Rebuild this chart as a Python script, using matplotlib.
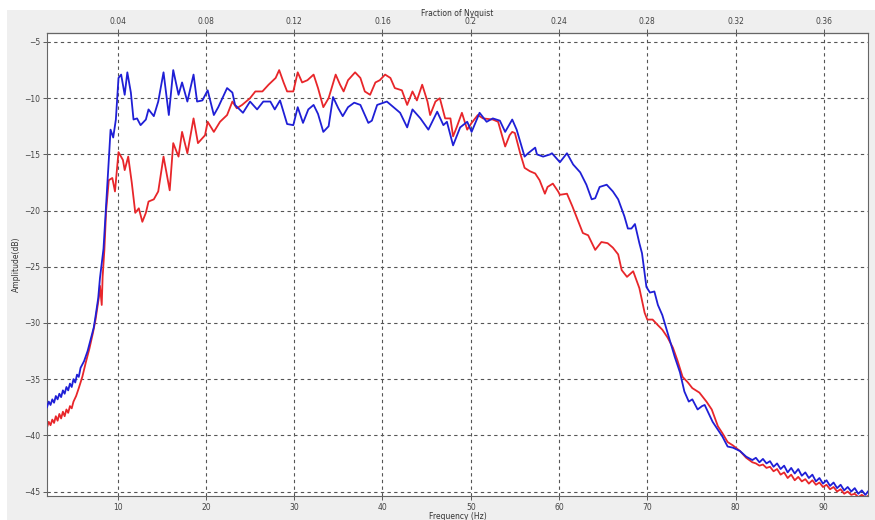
import matplotlib
matplotlib.use("Agg")
import matplotlib.pyplot as plt
from matplotlib.patches import Rectangle

# Spectrum data (frequency in Hz, amplitude in dB)
blue_freq = [2.0, 2.2, 2.4, 2.6, 2.8, 3.0, 3.2, 3.4, 3.6, 3.8, 4.0, 4.2, 4.4, 4.6, 4.8,
             5.0, 5.2, 5.4, 5.6, 5.8, 6.2, 6.6, 7.0, 7.3, 7.5, 7.8, 8.0, 8.4, 8.7, 9.0,
             9.2, 9.5, 9.8, 10.1, 10.4, 10.8, 11.1, 11.5, 11.8, 12.2, 12.6, 13.2, 13.5,
             14.1, 14.6, 15.2, 15.8, 16.3, 16.9, 17.3, 17.9, 18.6, 19.0, 19.6, 20.2,
             20.9, 21.4, 22.4, 23.0, 23.3, 24.2, 25.0, 25.8, 26.5, 27.3, 27.8, 28.4,
             29.2, 29.9, 30.4, 31.0, 31.6, 32.2, 32.7, 33.3, 33.9, 34.4, 35.0, 35.5,
             36.1, 36.8, 37.5, 38.4, 38.8, 39.4, 40.5, 41.4, 42.0, 42.8, 43.4, 44.3,
             45.2, 46.2, 46.9, 47.3, 48.0, 48.8, 49.6, 50.1, 51.0, 51.8, 52.5, 53.3,
             53.9, 54.7, 55.2, 56.1, 56.5, 57.3, 57.5, 58.2, 59.0, 59.2, 60.1, 60.9,
             61.6, 62.4, 63.1, 63.7, 64.1, 64.6, 65.4, 66.1, 66.7, 67.4, 67.8, 68.2,
             68.6, 69.1, 69.4, 69.9, 70.3, 70.8, 71.2, 71.7, 72.3, 73.1, 73.7, 74.2,
             74.7, 75.1, 75.7, 76.2, 76.5, 77.4, 78.5, 79.1, 79.7, 80.5, 81.2, 81.9,
             82.3, 82.7, 83.1, 83.5, 83.9, 84.3, 84.7, 85.1, 85.5, 85.9, 86.3, 86.7,
             87.1, 87.5, 87.9, 88.3, 88.7, 89.1, 89.5, 89.9, 90.3, 90.7, 91.1, 91.5,
             91.9, 92.3, 92.7, 93.1, 93.5, 93.9, 94.3, 94.7, 95.0]
blue_db = [-37.5, -37.0, -37.3, -36.8, -37.1, -36.5, -36.8, -36.3, -36.6, -36.0, -36.3,
           -35.7, -36.0, -35.4, -35.7, -35.0, -35.3, -34.6, -34.8, -34.0, -33.4, -32.5,
           -31.3, -30.4, -29.4, -27.8, -26.0, -23.4, -19.5, -15.5, -12.8, -13.5, -11.9,
           -8.2, -7.9, -9.7, -7.7, -9.5, -11.9, -11.8, -12.4, -11.9, -11.0, -11.6,
           -10.3, -7.7, -11.5, -7.5, -9.7, -8.6, -10.3, -7.9, -10.3, -10.2, -9.3,
           -11.5, -10.8, -9.1, -9.5, -10.6, -11.3, -10.3, -11.0, -10.3, -10.3, -11.0,
           -10.2, -12.3, -12.4, -10.8, -12.2, -11.0, -10.6, -11.4, -13.0, -12.5, -9.9,
           -10.9, -11.6, -10.8, -10.4, -10.6, -12.2, -12.0, -10.6, -10.3, -10.9, -11.3,
           -12.6, -11.0, -11.8, -12.8, -11.2, -12.4, -12.1, -14.2, -12.6, -12.1, -13.0,
           -11.3, -12.1, -11.8, -12.0, -13.0, -11.9, -12.8, -15.2, -14.9, -14.4, -15.0,
           -15.2, -15.0, -14.9, -15.7, -14.9, -15.9, -16.6, -17.7, -19.0, -18.9, -17.9,
           -17.7, -18.3, -19.0, -20.5, -21.6, -21.6, -21.2, -22.9, -23.8, -26.8, -27.3,
           -27.2, -28.4, -29.3, -30.9, -33.0, -34.4, -36.1, -37.0, -36.8, -37.7, -37.4,
           -37.3, -38.8, -40.1, -41.0, -41.1, -41.4, -41.9, -42.2,
           -42.0, -42.4, -42.1, -42.5, -42.3, -42.8, -42.5, -43.0, -42.7, -43.3, -42.9,
           -43.4, -43.0, -43.6, -43.3, -43.8, -43.5, -44.1, -43.8, -44.3, -44.0, -44.5,
           -44.2, -44.7, -44.4, -44.9, -44.6, -45.0, -44.7, -45.2, -44.9, -45.3, -45.0]

red_freq = [2.0, 2.2, 2.4, 2.6, 2.8, 3.0, 3.2, 3.4, 3.6, 3.8, 4.0, 4.2, 4.4, 4.6, 4.8,
            5.0, 5.3, 5.6, 6.0, 6.4, 6.8, 7.2, 7.5, 7.9, 8.0, 8.2, 8.3, 8.5, 8.7, 9.0,
            9.4, 9.7, 9.9, 10.1, 10.6, 10.8, 11.2, 11.6, 12.0, 12.4, 12.8, 13.2, 13.5,
            14.1, 14.6, 15.2, 15.9, 16.3, 16.9, 17.3, 17.9, 18.6, 19.1, 19.9, 20.2,
            20.9, 21.6, 22.4, 23.0, 23.5, 24.1, 25.0, 25.6, 26.4, 27.1, 27.9, 28.3,
            28.8, 29.2, 29.9, 30.4, 30.9, 31.5, 32.2, 32.7, 33.3, 33.9, 34.7, 35.2,
            35.6, 36.1, 36.9, 37.5, 38.0, 38.6, 39.2, 39.7, 40.3, 40.9, 41.4, 42.2,
            42.8, 43.4, 43.9, 44.5, 45.1, 45.4, 46.0, 46.5, 47.1, 47.7, 48.0, 48.4,
            49.0, 49.6, 50.1, 50.8, 51.4, 52.5, 53.1, 53.9, 54.4, 54.7, 55.0, 55.6,
            56.1, 56.7, 57.3, 57.8, 58.4, 58.7, 59.3, 59.9, 60.1, 60.9, 61.5, 62.2,
            62.7, 63.3, 64.1, 64.8, 65.5, 66.1, 66.7, 67.1, 67.7, 68.4, 69.1, 69.7,
            70.0, 70.6, 71.2, 71.7, 72.3, 72.9, 73.4, 74.0, 74.6, 75.1, 75.9, 76.3,
            76.7, 77.3, 78.0, 78.5, 78.8, 79.1, 79.7, 80.5, 81.2, 81.9,
            82.3, 82.7, 83.1, 83.5, 83.9, 84.3, 84.7, 85.1, 85.5, 85.9, 86.3, 86.7,
            87.1, 87.5, 87.9, 88.3, 88.7, 89.1, 89.5, 89.9, 90.3, 90.7, 91.1, 91.5,
            91.9, 92.3, 92.7, 93.1, 93.5, 93.9, 94.3, 94.7, 95.0]
red_db = [-39.3, -38.8, -39.1, -38.6, -38.9, -38.3, -38.7, -38.1, -38.5, -37.9, -38.3,
          -37.7, -38.0, -37.4, -37.6, -37.0, -36.5, -35.8, -34.8, -33.5, -32.3, -30.9,
          -29.7, -27.6, -26.7, -28.4, -25.9, -23.5, -20.0, -17.3, -17.1, -18.3, -16.6,
          -14.8, -15.5, -16.4, -15.2, -17.5, -20.2, -19.8, -21.0, -20.2, -19.2, -19.0,
          -18.3, -15.2, -18.2, -14.0, -15.2, -13.0, -14.9, -11.8, -14.0, -13.3, -12.1,
          -13.0, -12.1, -11.5, -10.3, -10.9, -10.6, -10.0, -9.4, -9.4, -8.8, -8.2,
          -7.5, -8.6, -9.4, -9.4, -7.7, -8.6, -8.4, -7.9, -9.1, -10.8, -10.0, -7.9,
          -8.8, -9.4, -8.4, -7.7, -8.2, -9.4, -9.7, -8.6, -8.4, -7.9, -8.2, -9.1,
          -9.3, -10.6, -9.4, -10.2, -8.8, -10.3, -11.5, -10.3, -10.0, -11.8, -11.8,
          -13.4, -12.6, -11.3, -12.8, -12.2, -11.5, -11.8, -11.9, -12.1, -14.3, -13.3,
          -13.0, -13.1, -14.9, -16.2, -16.5, -16.7, -17.3, -18.5, -17.9, -17.6, -18.3,
          -18.6, -18.5, -19.6, -21.0, -22.0, -22.2, -23.5, -22.8, -22.9, -23.3, -23.9,
          -25.3, -25.9, -25.4, -26.9, -29.1, -29.7, -29.7, -30.2, -30.6, -31.3, -32.2,
          -33.3, -34.8, -35.3, -35.8, -36.2, -36.6, -37.0, -37.7, -39.2, -39.8, -40.2,
          -40.6, -40.9, -41.4, -42.0, -42.4,
          -42.5, -42.7, -42.6, -42.9, -42.8, -43.2, -43.0, -43.5, -43.3, -43.8, -43.5,
          -44.0, -43.7, -44.1, -43.9, -44.3, -44.0, -44.4, -44.2, -44.6, -44.4, -44.8,
          -44.6, -45.0, -44.8, -45.2, -45.0, -45.3, -45.2, -45.5, -45.3, -45.5, -45.4]

x_ticks = [10, 20, 30, 40, 50, 60, 70, 80, 90]
y_ticks = [-45, -40, -35, -30, -25, -20, -15, -10, -5]
nyq_ticks = [0.04, 0.08, 0.12, 0.16, 0.2, 0.24, 0.28, 0.32, 0.36]
nyq_labels = ["0.04", "0.08", "0.12", "0.16", "0.2", "0.24", "0.28", "0.32", "0.36"]
sample_rate = 250.0

fig = plt.figure(figsize=(8.75, 5.2), dpi=100)
fig.patch.set_facecolor("white")
# grey panel behind the plot
fig.patches.append(Rectangle((7 / 875, 0), 1, 1 - 10 / 520, transform=fig.transFigure,
                             facecolor="#efefef", edgecolor="none", zorder=-10))

ax = fig.add_axes([47 / 875, 24 / 520, (868 - 47) / 875, (496 - 33) / 520])
ax.set_facecolor("white")

ax.plot(blue_freq, blue_db, color="#1f1fd6", lw=1.3, zorder=3)
ax.plot(red_freq, red_db, color="#e8262a", lw=1.3, zorder=2)

ax.set_xlim(2, 95)
ax.set_ylim(-45.4, -4.2)
ax.set_xticks(x_ticks)
ax.set_yticks(y_ticks)
ax.grid(True, color="#555555", linestyle=(0, (3, 3)), linewidth=0.8)
ax.tick_params(labelsize=5.5, colors="#444444", length=3, width=0.6, pad=2)

for s in ax.spines.values():
    s.set_color("#666666")
    s.set_linewidth(0.8)

top = ax.secondary_xaxis("top", functions=(lambda f: f / sample_rate,
                                           lambda r: r * sample_rate))
top.set_xticks(nyq_ticks)
top.set_xticklabels(nyq_labels)
top.tick_params(labelsize=5.5, colors="#444444", length=3, width=0.6, pad=2)
top.set_xlabel("Fraction of Nyquist", fontsize=5.5, color="#333333", labelpad=1)

ax.set_xlabel("Frequency (Hz)", fontsize=5.5, color="#333333", labelpad=0)
ax.set_ylabel("Amplitude(dB)", fontsize=5.5, color="#333333", labelpad=2)

fig.savefig("out.png", dpi=100)
